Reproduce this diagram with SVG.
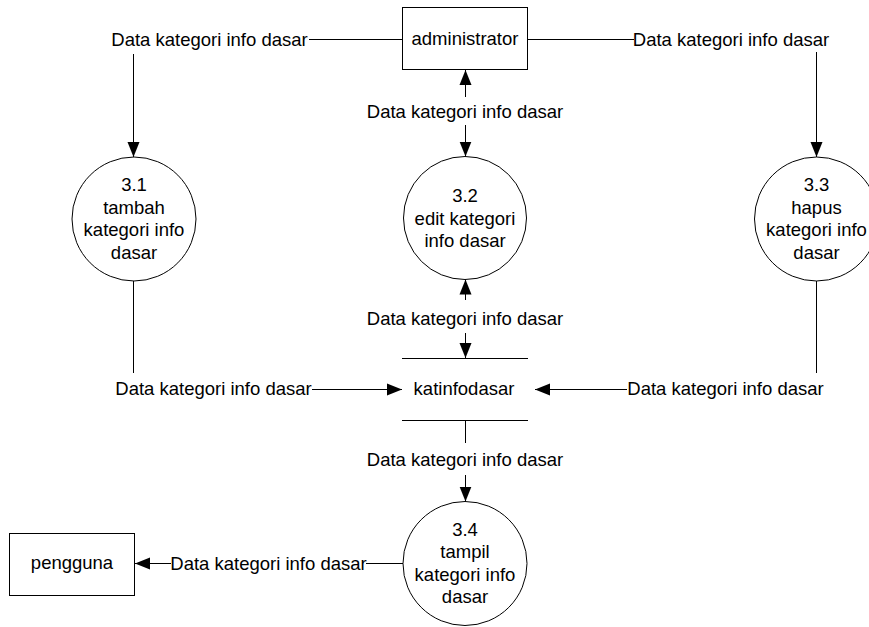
<svg xmlns="http://www.w3.org/2000/svg" width="869" height="627" viewBox="0 0 869 627">
<style>
text{font-family:"Liberation Sans",Arial,sans-serif;font-size:18.5px;fill:#000;text-anchor:middle}
.n{fill:#fff;stroke:#000;stroke-width:1}
.c{fill:none;stroke:#000;stroke-width:1}
</style>
<defs>
<marker id="arr" markerUnits="userSpaceOnUse" markerWidth="16" markerHeight="13" refX="15" refY="6.5" orient="auto">
<path d="M0,0.5 L15,6.5 L0,12.5 z" fill="#000"/>
</marker>
</defs>
<rect width="869" height="627" fill="#fff"/>

<g id="administrator">
<rect class="n" x="402.5" y="7.5" width="125" height="62"/>
<text x="465" y="45">administrator</text>
</g>

<g id="pengguna">
<rect class="n" x="9.5" y="533.5" width="125" height="62"/>
<text x="72" y="569">pengguna</text>
</g>

<g id="p31">
<circle class="n" cx="134" cy="219" r="62"/>
<text x="134" y="191">3.1</text>
<text x="134" y="213.5">tambah</text>
<text x="134" y="236">kategori info</text>
<text x="134" y="258.5">dasar</text>
</g>

<g id="p32">
<circle class="n" cx="465" cy="218" r="61.5"/>
<text x="465" y="202">3.2</text>
<text x="465" y="224.5">edit kategori</text>
<text x="465" y="247">info dasar</text>
</g>

<g id="p33">
<circle class="n" cx="816.5" cy="219" r="62"/>
<text x="816.5" y="191">3.3</text>
<text x="816.5" y="213.5">hapus</text>
<text x="816.5" y="236">kategori info</text>
<text x="816.5" y="258.5">dasar</text>
</g>

<g id="p34">
<circle class="n" cx="465" cy="563.5" r="62"/>
<text x="465" y="535.5">3.4</text>
<text x="465" y="558">tampil</text>
<text x="465" y="580.5">kategori info</text>
<text x="465" y="603">dasar</text>
</g>

<g id="katinfodasar">
<line class="c" x1="402" y1="358.5" x2="528" y2="358.5"/>
<line class="c" x1="402" y1="420.5" x2="528" y2="420.5"/>
<text x="464" y="395">katinfodasar</text>
</g>

<g id="connectors">
<!-- admin -> 3.1 -->
<line class="c" x1="402" y1="39.5" x2="309" y2="39.5"/>
<text x="209.5" y="45.5">Data kategori info dasar</text>
<line class="c" x1="133.5" y1="54" x2="133.5" y2="157" marker-end="url(#arr)"/>
<!-- admin -> 3.3 -->
<line class="c" x1="528" y1="39.5" x2="634" y2="39.5"/>
<text x="731" y="45.5">Data kategori info dasar</text>
<line class="c" x1="816.5" y1="52" x2="816.5" y2="157" marker-end="url(#arr)"/>
<!-- admin <-> 3.2 -->
<line class="c" x1="465.5" y1="97" x2="465.5" y2="70" marker-end="url(#arr)"/>
<text x="465" y="118">Data kategori info dasar</text>
<line class="c" x1="465.5" y1="125" x2="465.5" y2="156.5" marker-end="url(#arr)"/>
<!-- 3.2 <-> store -->
<line class="c" x1="465.5" y1="300" x2="465.5" y2="279.5" marker-end="url(#arr)"/>
<text x="465" y="325">Data kategori info dasar</text>
<line class="c" x1="465.5" y1="333" x2="465.5" y2="358" marker-end="url(#arr)"/>
<!-- 3.1 -> store -->
<line class="c" x1="133.5" y1="281" x2="133.5" y2="373"/>
<text x="213.5" y="395">Data kategori info dasar</text>
<line class="c" x1="312" y1="389.5" x2="402" y2="389.5" marker-end="url(#arr)"/>
<!-- 3.3 -> store -->
<line class="c" x1="627" y1="389.5" x2="535" y2="389.5" marker-end="url(#arr)"/>
<line class="c" x1="816.5" y1="281" x2="816.5" y2="373"/>
<text x="725.5" y="395">Data kategori info dasar</text>
<!-- store -> 3.4 -->
<line class="c" x1="465.5" y1="421" x2="465.5" y2="443"/>
<text x="465" y="466">Data kategori info dasar</text>
<line class="c" x1="465.5" y1="475" x2="465.5" y2="501.5" marker-end="url(#arr)"/>
<!-- 3.4 -> pengguna -->
<line class="c" x1="403" y1="563.5" x2="366" y2="563.5"/>
<text x="268.5" y="569.5">Data kategori info dasar</text>
<line class="c" x1="171" y1="563.5" x2="135" y2="563.5" marker-end="url(#arr)"/>
</g>
</svg>
